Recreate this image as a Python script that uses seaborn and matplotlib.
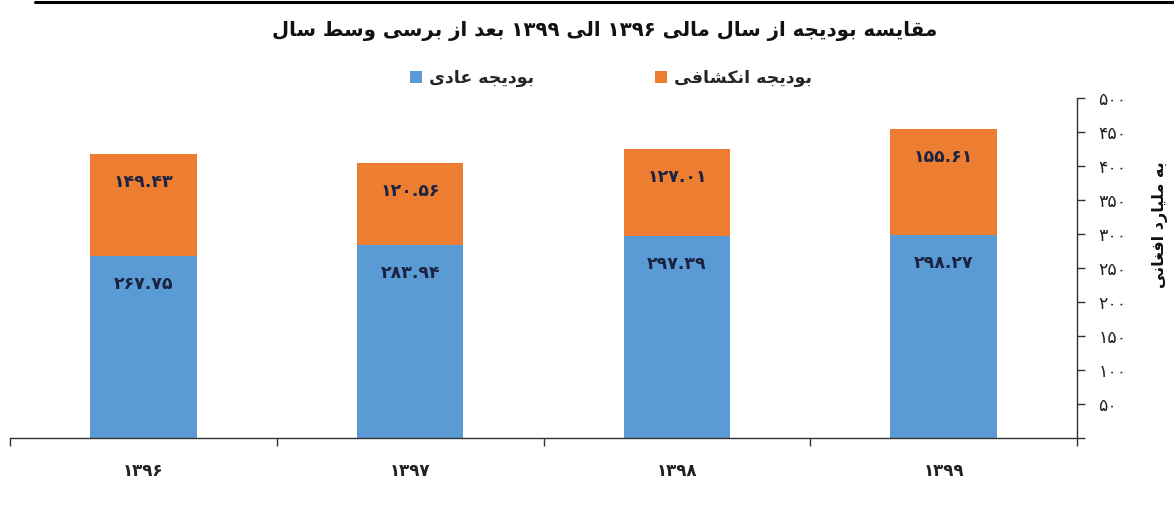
import numpy as np
import pandas as pd
import matplotlib
matplotlib.use("Agg")
import matplotlib.pyplot as plt
import seaborn as sns
from matplotlib import font_manager, ft2font
from matplotlib.font_manager import FontProperties
from matplotlib.patches import Patch
from matplotlib.lines import Line2D

# ---------------- data ----------------
years = ["1396", "1397", "1398", "1399"]
ordinary_budget = [267.75, 283.94, 297.39, 298.27]
development_budget = [149.43, 120.56, 127.01, 155.61]
y_ticks = [0, 50, 100, 150, 200, 250, 300, 350, 400, 450, 500]
series_names = ["بودیجه عادی", "بودیجه انکشافی"]
title_text = "مقایسه بودیجه از سال مالی ۱۳۹۶ الی ۱۳۹۹ بعد از برسی وسط سال"
y_label_text = "به ملیارد افغانی"
series_colors = ["#5B9BD5", "#ED7D31"]

# ---------------- fonts / Persian shaping ----------------
sns.set_theme(style="white")
plt.rcParams["font.family"] = ["DejaVu Sans"]


def charmap_for(weight):
    path = font_manager.findfont(FontProperties(family="DejaVu Sans", weight=weight))
    try:
        return set(ft2font.FT2Font(path).get_charmap().keys())
    except Exception:
        return set()


cm_bold = charmap_for("bold")
cm_norm = charmap_for("normal")
BOLD_OK = all(c in cm_bold for c in [0xFEE3, 0xFE91, 0xFEAE, 0x06F1, 0x06F9])
CMAP = cm_bold if BOLD_OK else cm_norm
FW = "bold" if BOLD_OK else "normal"

# (isolated, final, initial, medial); None => right-joining only
FORMS = {
    "ا": (0xFE8D, 0xFE8E, None, None),
    "ب": (0xFE8F, 0xFE90, 0xFE91, 0xFE92),
    "ت": (0xFE95, 0xFE96, 0xFE97, 0xFE98),
    "ج": (0xFE9D, 0xFE9E, 0xFE9F, 0xFEA0),
    "د": (0xFEA9, 0xFEAA, None, None),
    "ر": (0xFEAD, 0xFEAE, None, None),
    "ز": (0xFEAF, 0xFEB0, None, None),
    "س": (0xFEB1, 0xFEB2, 0xFEB3, 0xFEB4),
    "ش": (0xFEB5, 0xFEB6, 0xFEB7, 0xFEB8),
    "ط": (0xFEC1, 0xFEC2, 0xFEC3, 0xFEC4),
    "ع": (0xFEC9, 0xFECA, 0xFECB, 0xFECC),
    "غ": (0xFECD, 0xFECE, 0xFECF, 0xFED0),
    "ف": (0xFED1, 0xFED2, 0xFED3, 0xFED4),
    "ق": (0xFED5, 0xFED6, 0xFED7, 0xFED8),
    "ل": (0xFEDD, 0xFEDE, 0xFEDF, 0xFEE0),
    "م": (0xFEE1, 0xFEE2, 0xFEE3, 0xFEE4),
    "ن": (0xFEE5, 0xFEE6, 0xFEE7, 0xFEE8),
    "ه": (0xFEE9, 0xFEEA, 0xFEEB, 0xFEEC),
    "و": (0xFEED, 0xFEEE, None, None),
    "ک": (0xFB8E, 0xFB8F, 0xFB90, 0xFB91),
    "ی": (0xFBFC, 0xFBFD, 0xFBFE, 0xFBFF),
}
FALLBACK = {
    "ک": (0xFED9, 0xFEDA, 0xFEDB, 0xFEDC),
    "ی": (0xFEEF, 0xFEF0, 0xFEF3, 0xFEF4),
}
for k, v in FALLBACK.items():
    if not all(c in CMAP for c in FORMS[k]):
        FORMS[k] = v

DIGITS = str.maketrans("0123456789", "۰۱۲۳۴۵۶۷۸۹")


def fa_num(s):
    return s.translate(DIGITS)


def shape(text):
    out = []
    n = len(text)
    for i, ch in enumerate(text):
        if ch not in FORMS:
            out.append(ch)
            continue
        prev = text[i - 1] if i > 0 else ""
        nxt = text[i + 1] if i + 1 < n else ""
        prev_con = prev in FORMS and FORMS[prev][2] is not None
        dual = FORMS[ch][2] is not None
        next_con = dual and nxt in FORMS
        iso, fin, ini, med = FORMS[ch]
        if prev_con and next_con:
            cp = med
        elif prev_con:
            cp = fin
        elif next_con:
            cp = ini
        else:
            cp = iso
        out.append(chr(cp))
    # visual reorder: reverse, keeping digit runs LTR
    runs = []
    for ch in out:
        is_num = ch in "۰۱۲۳۴۵۶۷۸۹."
        if runs and runs[-1][0] == is_num:
            runs[-1][1].append(ch)
        else:
            runs.append([is_num, [ch]])
    vis = []
    for is_num, chars in reversed(runs):
        vis.append("".join(chars) if is_num else "".join(reversed(chars)))
    return "".join(vis)


# ---------------- figure ----------------
W, H = 1174, 509
fig = plt.figure(figsize=(W / 100, H / 100), dpi=100)
fig.patch.set_facecolor("white")
ax = fig.add_axes([10 / W, 71 / H, (1077 - 10) / W, (438 - 98) / H])

totals = [a + b for a, b in zip(ordinary_budget, development_budget)]
df = pd.DataFrame({"year": years, "ordinary": ordinary_budget,
                   "development": development_budget, "total": totals})

sns.barplot(data=df, x="year", y="total", color=series_colors[1], saturation=1,
            width=0.4, linewidth=0, ax=ax)
sns.barplot(data=df, x="year", y="ordinary", color=series_colors[0], saturation=1,
            width=0.4, linewidth=0, ax=ax)

label_color = "#1b2340"
offset_pt = -20
for cont, vals in [(ax.containers[0], development_budget), (ax.containers[1], ordinary_budget)]:
    for p, v in zip(cont.patches, vals):
        ax.annotate(fa_num(f"{v:.2f}"), (p.get_x() + p.get_width() / 2, p.get_y() + p.get_height()),
                    xytext=(0, offset_pt), textcoords="offset points",
                    ha="center", va="center", fontsize=12.5, fontweight=FW, color=label_color)

ax.set_xlim(-0.5, len(years) - 0.5)
ax.set_ylim(0, 500)
ax.set_xlabel("")
ax.set_ylabel("")

# x axis
ax.set_xticks(range(len(years)))
ax.set_xticklabels([fa_num(y) for y in years], fontsize=12, fontweight=FW, color="#222222")
ax.set_xticks(np.arange(-0.5, len(years), 1.0), minor=True)
ax.tick_params(axis="x", which="major", length=0, pad=17, bottom=True)
ax.tick_params(axis="x", which="minor", length=5.5, width=1.0, direction="out",
               color="#333333", bottom=True)

# y axis on right
ax.yaxis.tick_right()
ax.set_yticks(y_ticks)
ax.set_yticklabels(["" if t == 0 else fa_num(str(t)) for t in y_ticks],
                   fontsize=12.5, color="#222222")
ax.tick_params(axis="y", which="major", length=5.5, width=1.0, direction="out",
               color="#333333", pad=10, right=True, left=False)

for s in ["left", "top"]:
    ax.spines[s].set_visible(False)
for s in ["right", "bottom"]:
    ax.spines[s].set_visible(True)
    ax.spines[s].set_color("#333333")
    ax.spines[s].set_linewidth(1.0)
ax.grid(False)

# title
fig.text(605 / W, 1 - 31 / H, shape(title_text), ha="center", va="center",
         fontsize=14.2, fontweight=FW, color="#111111")

# legend
handles = [Patch(facecolor=series_colors[0], edgecolor="none"),
           Patch(facecolor=series_colors[1], edgecolor="none")]
fig.legend(handles, [shape(n) for n in series_names], loc="center",
           bbox_to_anchor=(611 / W, 1 - 78 / H), ncol=2, frameon=False,
           handlelength=0.7, handleheight=0.7, handletextpad=0.4, columnspacing=7,
           prop={"size": 12.5, "weight": FW})

# y label (right side)
fig.text(1160 / W, 1 - 225 / H, shape(y_label_text), rotation=90, ha="center", va="center",
         fontsize=11.5, fontweight=FW, color="#111111")

# top rule
fig.add_artist(Line2D([35 / W, 1.0], [1 - 1.5 / H, 1 - 1.5 / H], transform=fig.transFigure,
                      color="black", linewidth=2.2))

fig.savefig("out.png", dpi=100, facecolor="white")
